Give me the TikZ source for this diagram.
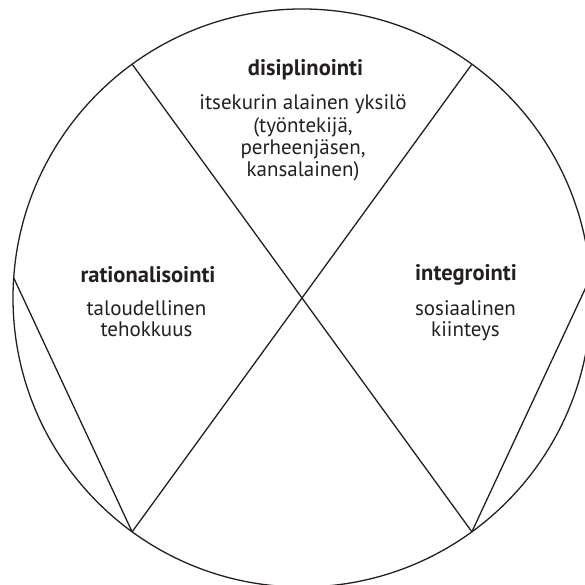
\documentclass[tikz,border=0pt]{standalone}
\usepackage{fontspec}
\setmainfont{PT Sans}
\usetikzlibrary{calc}
\definecolor{ink}{RGB}{35,31,32}
\begin{document}
\begin{tikzpicture}[x=1pt,y=1pt,
  edge/.style={draw=ink,line width=1.3pt},
  title/.style={text=ink,font=\fontsize{22.5}{22.5}\selectfont\bfseries,inner sep=0pt,anchor=base},
  body/.style={text=ink,font=\fontsize{21}{22.3}\selectfont,align=center,inner sep=0pt,anchor=base},
  bodyb/.style={body,font=\fontsize{21}{20.5}\selectfont}]
\useasboundingbox (0,0) rectangle (585,585);
\clip (0,0) rectangle (585,585);
\coordinate (c) at (302,287);
\coordinate (tl) at ($(c)+(126:289)$);
\coordinate (tr) at ($(c)+(54:289)$);
\coordinate (bl) at ($(c)+(234:289)$);
\coordinate (br) at ($(c)+(306:289)$);
\coordinate (lp) at ($(c)+(176:289)$);
\coordinate (rp) at ($(c)+(4:289)$);
\draw[edge] (c) circle[radius=289];
\draw[edge] (tl) -- (br);
\draw[edge] (tr) -- (bl);
\draw[edge] (lp) -- (bl);
\draw[edge] (rp) -- (br);
\node[title] (t1) at (305.5,509.3) {disiplinointi};
\node[body] (b1) at (303,408.1) {itsekurin alainen yksilö\\(työntekijä,\\perheenjäsen,\\kansalainen)};
\node[title] (t2) at (148,302) {rationalisointi};
\node[bodyb] (b2) at (146.5,248.5) {taloudellinen\\tehokkuus};
\node[title] (t3) at (466,304) {integrointi};
\node[bodyb] (b3) at (465.5,248.5) {sosiaalinen\\kiinteys};
\end{tikzpicture}
\end{document}
